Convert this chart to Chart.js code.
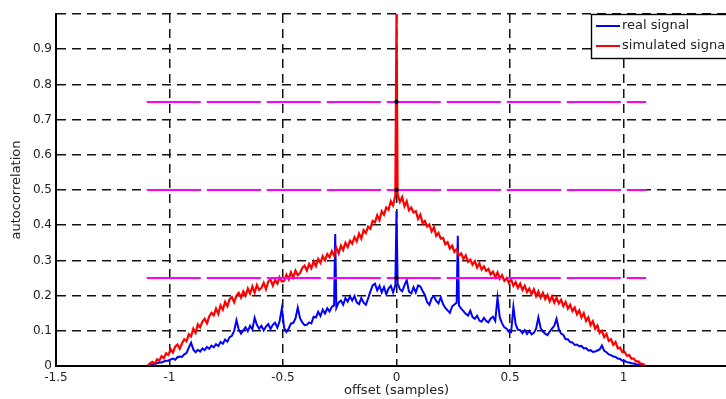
<!DOCTYPE html>
<html>
<head>
<meta charset="utf-8">
<style>
  html, body { margin: 0; padding: 0; overflow: hidden; background: #fff; }
  canvas { display: block; }
</style>
<script src="https://cdn.jsdelivr.net/npm/chart.js@4.4.1/dist/chart.umd.min.js"></script>
</head>
<body>
<canvas id="acf" width="780" height="399"></canvas>
<script>
// Axis ticks
const xTicks = [-1.5, -1, -0.5, 0, 0.5, 1, 1.5];
const xTickLabels = ['-1.5', '-1', '-0.5', '0', '0.5', '1', '1.5'];
const yTicks = [0, 0.1, 0.2, 0.3, 0.4, 0.5, 0.6, 0.7, 0.8, 0.9, 1];
const yTickLabels = ['0', '0.1', '0.2', '0.3', '0.4', '0.5', '0.6', '0.7', '0.8', '0.9', ''];

const seriesNames = ['real signal', 'simulated signal'];

// Sample offsets: first lag and spacing of the autocorrelation samples
const lagStart = -1.095;
const lagStep = 0.01;

// Autocorrelation of the recorded signal (one value per lag)
const realSignal = [
  0.001, 0.003, 0.005, 0.005, 0.008, 0.010, 0.010, 0.013, 0.015, 0.015,
  0.019, 0.021, 0.018, 0.025, 0.027, 0.026, 0.033, 0.037, 0.052, 0.066,
  0.047, 0.039, 0.046, 0.041, 0.050, 0.045, 0.054, 0.049, 0.058, 0.053,
  0.062, 0.057, 0.068, 0.063, 0.075, 0.069, 0.082, 0.086, 0.100, 0.130,
  0.104, 0.092, 0.101, 0.110, 0.099, 0.114, 0.104, 0.137, 0.117, 0.106,
  0.114, 0.101, 0.112, 0.119, 0.105, 0.117, 0.123, 0.109, 0.127, 0.164,
  0.108, 0.097, 0.106, 0.121, 0.122, 0.135, 0.166, 0.136, 0.124, 0.116,
  0.117, 0.124, 0.121, 0.140, 0.138, 0.154, 0.142, 0.160, 0.149, 0.164,
  0.155, 0.168, 0.172, 0.165, 0.180, 0.186, 0.174, 0.193, 0.183, 0.198,
  0.186, 0.199, 0.181, 0.176, 0.193, 0.180, 0.174, 0.192, 0.212, 0.229,
  0.234, 0.215, 0.228, 0.209, 0.224, 0.204, 0.220, 0.228, 0.209, 0.230,
  0.235, 0.218, 0.212, 0.229, 0.244, 0.211, 0.206, 0.224, 0.209, 0.229,
  0.226, 0.213, 0.202, 0.181, 0.174, 0.193, 0.198, 0.185, 0.178, 0.195,
  0.176, 0.165, 0.158, 0.151, 0.169, 0.175, 0.180, 0.172, 0.163, 0.156,
  0.148, 0.143, 0.157, 0.139, 0.134, 0.143, 0.129, 0.126, 0.137, 0.128,
  0.124, 0.135, 0.140, 0.128, 0.194, 0.138, 0.121, 0.110, 0.106, 0.097,
  0.096, 0.168, 0.118, 0.103, 0.102, 0.093, 0.102, 0.091, 0.100, 0.090,
  0.094, 0.106, 0.138, 0.108, 0.098, 0.092, 0.088, 0.098, 0.106, 0.114,
  0.134, 0.105, 0.092, 0.088, 0.076, 0.076, 0.068, 0.067, 0.060, 0.061,
  0.056, 0.057, 0.050, 0.051, 0.044, 0.045, 0.040, 0.041, 0.044, 0.047,
  0.058, 0.043, 0.039, 0.033, 0.031, 0.027, 0.026, 0.021, 0.020, 0.015,
  0.014, 0.011, 0.010, 0.008, 0.007, 0.005, 0.004, 0.003, 0.002, 0.001
];
// Narrow peaks of the recorded signal between samples
const realPeakOffsets = [-0.27, 0, 0.27];
const realPeakValues = [0.375, 0.44, 0.37];

// Autocorrelation of the simulated signal (one value per lag)
const simulatedSignal = [
  0.002, 0.008, 0.012, 0.006, 0.019, 0.015, 0.028, 0.022, 0.036, 0.031,
  0.048, 0.038, 0.055, 0.061, 0.049, 0.064, 0.076, 0.070, 0.090, 0.084,
  0.106, 0.094, 0.118, 0.110, 0.126, 0.134, 0.121, 0.141, 0.151, 0.144,
  0.163, 0.148, 0.172, 0.160, 0.182, 0.170, 0.190, 0.196, 0.181, 0.200,
  0.208, 0.194, 0.212, 0.200, 0.220, 0.206, 0.226, 0.208, 0.230, 0.216,
  0.222, 0.236, 0.218, 0.240, 0.246, 0.228, 0.244, 0.234, 0.252, 0.240,
  0.242, 0.259, 0.246, 0.266, 0.251, 0.271, 0.258, 0.264, 0.279, 0.285,
  0.271, 0.290, 0.278, 0.297, 0.284, 0.304, 0.293, 0.312, 0.300, 0.318,
  0.309, 0.326, 0.314, 0.336, 0.320, 0.342, 0.330, 0.350, 0.338, 0.356,
  0.348, 0.366, 0.354, 0.376, 0.362, 0.386, 0.378, 0.396, 0.390, 0.412,
  0.408, 0.428, 0.414, 0.440, 0.430, 0.450, 0.444, 0.468, 0.456, 0.485,
  0.488, 0.466, 0.480, 0.454, 0.468, 0.442, 0.450, 0.436, 0.440, 0.418,
  0.430, 0.406, 0.412, 0.396, 0.402, 0.382, 0.394, 0.370, 0.378, 0.362,
  0.364, 0.346, 0.352, 0.334, 0.342, 0.324, 0.332, 0.314, 0.320, 0.304,
  0.314, 0.296, 0.302, 0.288, 0.298, 0.280, 0.292, 0.274, 0.283, 0.270,
  0.276, 0.260, 0.268, 0.252, 0.266, 0.248, 0.258, 0.242, 0.250, 0.236,
  0.246, 0.228, 0.238, 0.222, 0.234, 0.216, 0.228, 0.210, 0.220, 0.204,
  0.218, 0.198, 0.212, 0.194, 0.208, 0.190, 0.202, 0.184, 0.198, 0.180,
  0.194, 0.178, 0.188, 0.170, 0.182, 0.163, 0.174, 0.156, 0.166, 0.147,
  0.158, 0.138, 0.150, 0.128, 0.138, 0.116, 0.127, 0.106, 0.115, 0.094,
  0.100, 0.082, 0.091, 0.071, 0.076, 0.060, 0.068, 0.050, 0.052, 0.039,
  0.040, 0.029, 0.031, 0.021, 0.021, 0.013, 0.013, 0.007, 0.006, 0.001
];
const simulatedPeakOffsets = [0];
const simulatedPeakValues = [1.0];

// Reference levels (dashed magenta) and their span
const refLevels = [0.25, 0.5, 0.75];
const refSpan = [-1.1, 1.1];
// Markers on the zero-lag line at the reference levels
const markerOffsets = [0, 0, 0];
const markerValues = [0.25, 0.5, 0.75];

const BLUE = '#0000ff', RED = '#ff0000', MAGENTA = '#ff00ff';
const FONT = '"DejaVu Sans", "Liberation Sans", Arial, sans-serif';

function toPoints(values, peakX, peakY) {
  const pts = values.map((v, i) => ({ x: +(lagStart + i * lagStep).toFixed(3), y: v }));
  peakX.forEach((x, k) => pts.push({ x: x, y: peakY[k] }));
  pts.sort((a, b) => a.x - b.x);
  return pts;
}

const datasets = [];
refLevels.forEach(level => {
  datasets.push({
    label: 'level ' + level,
    data: [{ x: refSpan[0], y: level }, { x: refSpan[1], y: level }],
    borderColor: MAGENTA, borderWidth: 2, borderDash: [54, 6],
    pointRadius: 0, order: -1
  });
});
datasets.push({
  label: 'markers',
  data: markerOffsets.map((x, i) => ({ x: x, y: markerValues[i] })),
  showLine: false, pointRadius: 2.2, pointBackgroundColor: '#000',
  pointBorderColor: '#000', pointBorderWidth: 0, order: -2
});
datasets.push({
  label: seriesNames[1],
  data: toPoints(simulatedSignal, simulatedPeakOffsets, simulatedPeakValues),
  borderColor: RED, borderWidth: 2.2, pointRadius: 0, tension: 0, order: 0
});
datasets.push({
  label: seriesNames[0],
  data: toPoints(realSignal, realPeakOffsets, realPeakValues),
  borderColor: BLUE, borderWidth: 2, pointRadius: 0, tension: 0, order: 1
});

// Boxed legend in the upper-right corner of the plot
const boxLegend = {
  id: 'boxLegend',
  afterDraw(chart) {
    const { ctx, chartArea } = chart;
    const w = 146, h = 44;
    const x0 = chartArea.right - w, y0 = chartArea.top;
    ctx.save();
    ctx.fillStyle = '#fff';
    ctx.fillRect(x0, y0, w, h);
    ctx.strokeStyle = '#000';
    ctx.lineWidth = 1.4;
    ctx.strokeRect(x0 + 0.5, y0 + 0.5, w, h);
    const items = [[seriesNames[0], BLUE], [seriesNames[1], RED]];
    ctx.font = '13px ' + FONT;
    ctx.textBaseline = 'middle';
    items.forEach((it, i) => {
      const yy = y0 + 12 + i * 20;
      ctx.strokeStyle = it[1];
      ctx.lineWidth = 2;
      ctx.beginPath();
      ctx.moveTo(x0 + 5, yy);
      ctx.lineTo(x0 + 29, yy);
      ctx.stroke();
      ctx.fillStyle = '#222';
      ctx.fillText(it[0], x0 + 31, yy);
    });
    ctx.restore();
  }
};

new Chart(document.getElementById('acf'), {
  type: 'line',
  data: { datasets: datasets },
  plugins: [boxLegend],
  options: {
    responsive: false,
    animation: false,
    devicePixelRatio: 1,
    layout: { padding: { top: 14, right: 43, left: 0, bottom: 0 } },
    plugins: { legend: { display: false }, tooltip: { enabled: false } },
    scales: {
      x: {
        type: 'linear', min: -1.5, max: 1.5,
        afterBuildTicks(s) { s.ticks = xTicks.map(v => ({ value: v })); },
        afterFit(s) { s.height = 33; },
        ticks: {
          padding: 5, color: '#222', font: { family: FONT, size: 12 },
          maxRotation: 0, autoSkip: false,
          callback: (v) => xTickLabels[xTicks.indexOf(v)] ?? ''
        },
        grid: { color: '#111', lineWidth: 1.5, drawTicks: false },
        border: { color: '#000', width: 2, dash: [9, 6] },
        title: {
          display: true, text: 'offset (samples)', color: '#222',
          font: { family: FONT, size: 13 }, padding: { top: 0, bottom: 1 }
        }
      },
      y: {
        type: 'linear', min: 0, max: 1,
        afterBuildTicks(s) { s.ticks = yTicks.map(v => ({ value: v })); },
        afterFit(s) { s.width = 56; },
        ticks: {
          padding: 4, color: '#222', font: { family: FONT, size: 12 },
          autoSkip: false,
          callback: (v) => yTickLabels[yTicks.findIndex(t => Math.abs(t - v) < 1e-9)] ?? ''
        },
        grid: { color: '#111', lineWidth: 1.5, drawTicks: false },
        border: { color: '#000', width: 2, dash: [9, 6] },
        title: {
          display: true, text: 'autocorrelation', color: '#222',
          font: { family: FONT, size: 13 }, padding: { top: 9, bottom: 0 }
        }
      }
    }
  }
});
</script>
</body>
</html>
